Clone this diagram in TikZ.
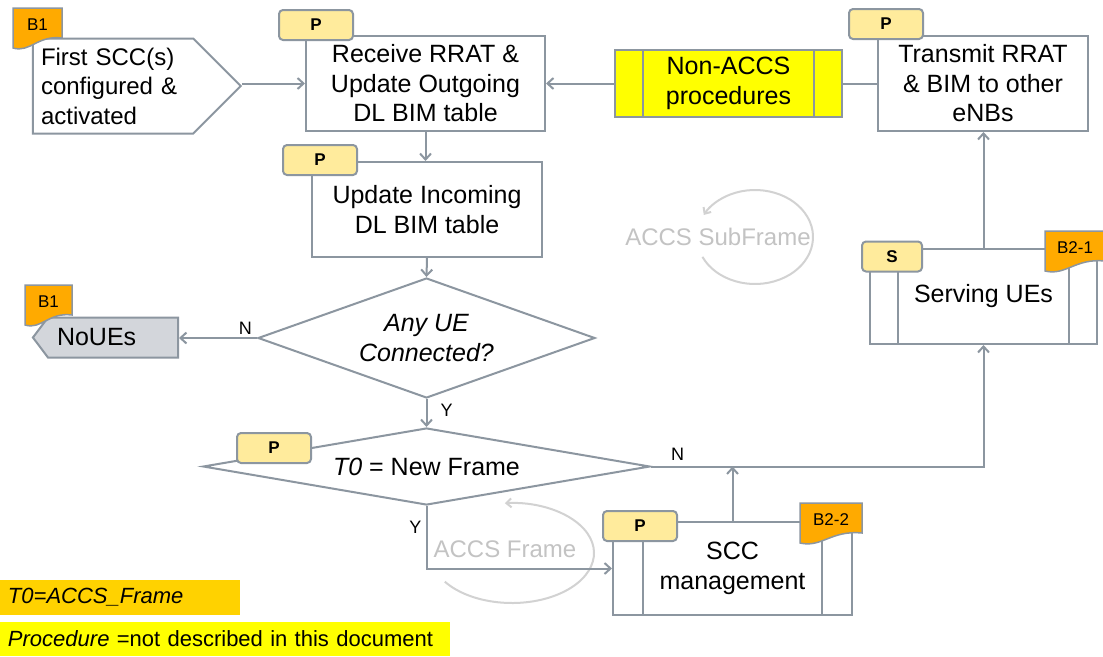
\documentclass[tikz,border=0pt]{standalone}
\usepackage{fontspec}
\setmainfont{Liberation Sans}
\usetikzlibrary{arrows.meta,positioning,shapes.geometric,shapes.symbols}

\definecolor{linegray}{RGB}{140,150,160}
\definecolor{tagyellow}{RGB}{255,235,156}
\definecolor{tagorange}{RGB}{255,170,0}
\definecolor{procyellow}{RGB}{255,255,0}
\definecolor{legendgold}{RGB}{255,210,0}
\definecolor{endgray}{RGB}{211,214,219}
\definecolor{ghostgray}{RGB}{195,195,195}

\newcommand{\flowfont}{\fontsize{25}{29.5}\selectfont}
\newcommand{\tagfont}{\fontsize{17}{19}\selectfont}
\newcommand{\legfont}{\fontsize{22}{26}\selectfont}
\newcommand{\lblfont}{\fontsize{18}{20}\selectfont}

% orange block tag: name, left x, top y, width, label
\newcommand{\blocktag}[5]{%
  \filldraw[tagline] (#2,#3) -- ({#2+#4},#3) -- ({#2+#4},{#3+30})
    .. controls ({#2+0.5*#4},{#3+27}) and ({#2+0.35*#4},{#3+45}) .. (#2,{#3+40}) -- cycle;
  \node[font=\tagfont] (#1) at ({#2+0.5*#4},{#3+17}) {#5};}

\tikzset{
  flowline/.style={draw=linegray, line width=2pt},
  arrow/.style={flowline, -{Straight Barb[length=6pt,width=11pt]}},
  box/.style={rectangle, draw=linegray, line width=2pt, fill=white, align=center, inner sep=0pt, font=\flowfont},
  predef/.style={box, path picture={
    \draw[linegray, line width=2pt]
      ([xshift=#1]path picture bounding box.north west) -- ([xshift=#1]path picture bounding box.south west)
      ([xshift=-#1]path picture bounding box.north east) -- ([xshift=-#1]path picture bounding box.south east);}},
  predef/.default=28pt,
  decision/.style={diamond, draw=linegray, line width=2pt, fill=white, inner sep=0pt, align=center, font=\flowfont\itshape},
  startbox/.style={signal, signal to=east, signal pointer angle=90, draw=linegray, line width=2pt, fill=white,
    text width=144pt, align=left, inner xsep=8.25pt, inner ysep=0pt, minimum height=95pt,
    font=\fontsize{24}{29.5}\selectfont},
  endbox/.style={signal, signal to=west, signal pointer angle=106, draw=linegray, line width=2pt, fill=endgray,
    text width=112pt, align=left, inner xsep=9pt, inner ysep=0pt, minimum height=40pt, font=\flowfont},
  ptag/.style={rectangle, rounded corners=4pt, draw=linegray, line width=2pt, fill=tagyellow,
    minimum width=74pt, minimum height=30pt, inner sep=0pt, font=\tagfont\bfseries},
  tagline/.style={fill=tagorange, draw=linegray, line width=1.5pt},
  lbl/.style={font=\lblfont, inner sep=1pt},
  legend/.style={rectangle, inner xsep=8pt, inner ysep=0pt, align=left, font=\legfont},
  ghost/.style={text=ghostgray, font=\fontsize{24}{28}\selectfont},
  ghostarc/.style={draw=ghostgray!75, line width=2pt, -{Straight Barb[length=5pt,width=9pt]}}
}

\begin{document}
\begin{tikzpicture}[x=1pt, y=-1pt]
  \fill[white] (0,0) rectangle (1103,656);
  \useasboundingbox (0,0) rectangle (1103,656);

  % ghost loops
  \draw[ghostarc] (755,237) ++(155:58 and 47) arc[start angle=155, end angle=-152, x radius=58, y radius=47];
  \node[ghost] (subf) at (718,237) {ACCS SubFrame};
  \draw[ghostarc] (512,553) ++(145:82 and 50) arc[start angle=145, end angle=-95, x radius=82, y radius=50];
  \node[ghost] (frm) at (505,549) {ACCS Frame};

  % blocks
  \node[startbox] (first) at (113,86) {First SCC(s)\\configured \&\\activated};
  \node[box, minimum width=239pt, minimum height=95pt] (rx) at (425.5,83.5) {Receive RRAT \&\\Update Outgoing\\DL BIM table};
  \node[box, minimum width=230pt, minimum height=95pt] (upd) at (427,209.5) {Update Incoming\\DL BIM table};
  \node[decision, aspect=3, minimum width=337pt, minimum height=120pt] (any) at (426.5,338) {Any UE\\Connected?};
  \node[decision, aspect=4, minimum width=447pt, minimum height=77pt, font=\flowfont] (newf) at (426.5,466.5) {\textit{T0} = New Frame};
  \node[endbox] (noues) at (113,337.5) {NoUEs};
  \node[predef, fill=procyellow, minimum width=227pt, minimum height=67pt] (nonaccs) at (728.5,83.5) {Non-ACCS\\procedures};
  \node[box, minimum width=210pt, minimum height=95pt] (tx) at (983,83.5) {Transmit RRAT\\\& BIM to other\\eNBs};
  \node[predef, minimum width=227pt, minimum height=95pt] (serv) at (983.5,296.5) {Serving UEs};
  \node[predef=30pt, minimum width=239pt, minimum height=93pt] (scc) at (732.5,568.5) {SCC\\management};

  % connectors
  \draw[arrow] (first.east |- rx.west) -- (rx.west);
  \draw[arrow] (rx.south) -- (rx.south |- upd.north);
  \draw[arrow] (upd.south) -- (any.north);
  \draw[arrow] (nonaccs) -- (rx);
  \draw[flowline] (tx) -- (nonaccs);
  \draw[arrow] (any.west) -- node[lbl, pos=0.15, above=2pt] (nN) {N} (noues.east |- any.west);
  \draw[arrow] (any.south) -- node[lbl, pos=0.4, right=12pt] (nY) {Y} (newf.north);
  \draw[arrow] (newf.east) -| node[lbl, pos=0.04, above=4pt] (nN2) {N} (serv.south);
  \draw[arrow] (newf.south) |- node[lbl, pos=0.17, left=3pt] (nY2) {Y} (scc.west);
  \draw[arrow] (scc.north) -- (scc.north |- newf.east);
  \draw[arrow] (serv.north) -- (serv.north |- tx.south);

  % tags
  \node[ptag] (rxP) at (316,25) {P};
  \node[ptag] (updP) at (320,160) {P};
  \node[ptag] (txP) at (886,24) {P};
  \node[ptag] (newfP) at (274,448) {P};
  \node[ptag, minimum width=60pt] (servS) at (892,256.5) {S};
  \node[ptag] (sccP) at (640,526) {P};
  \blocktag{firstB}{13}{8}{49}{B1}
  \blocktag{nouesB}{25}{285}{47}{B1}
  \blocktag{servB}{1045}{231}{60}{B2-1}
  \blocktag{sccB}{800}{503}{62}{B2-2}

  % legend
  \node[legend, fill=legendgold, text width=224pt, minimum height=35pt] (legT) at (120,597.5) {\textit{T0=ACCS\_Frame}};
  \node[legend, fill=procyellow, text width=434pt, minimum height=34pt] (legP) at (225,639) {\textit{Procedure} =not described in this document};
\end{tikzpicture}
\end{document}
